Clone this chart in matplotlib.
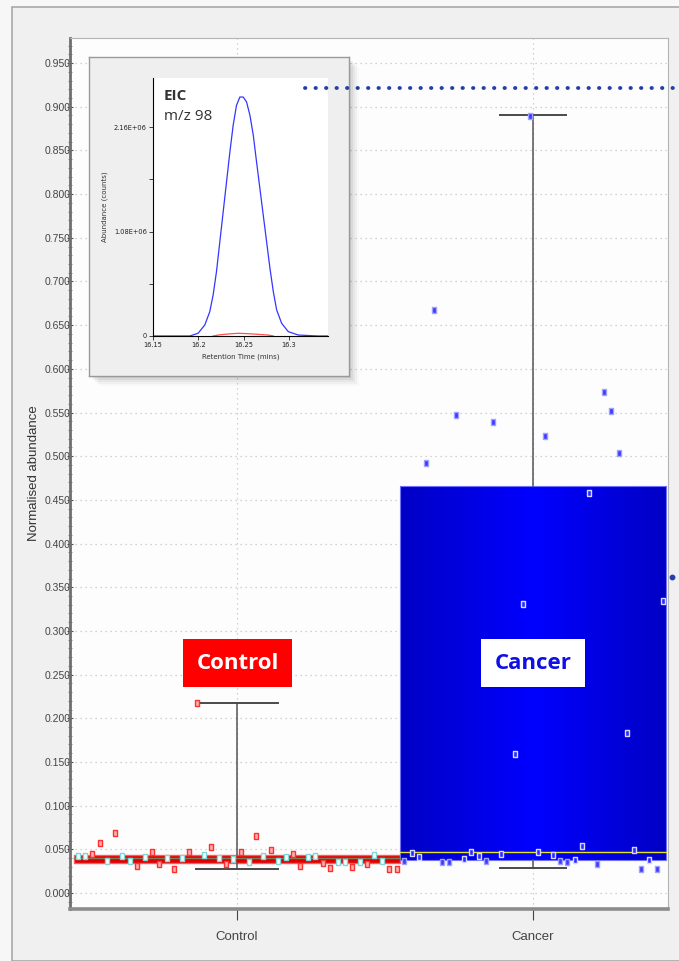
import numpy as np
import matplotlib.pyplot as plt
from matplotlib.colors import LinearSegmentedColormap
from matplotlib.patches import Rectangle
from matplotlib.ticker import MultipleLocator, FixedLocator

# ---------------------------------------------------------------------------
# Data
# ---------------------------------------------------------------------------
groups = ["Control", "Cancer"]

# box summary per group
whisker_low = [0.0275, 0.0286]
q1 = [0.0343, 0.0378]
median = [0.0400, 0.0465]
q3 = [0.0435, 0.4659]
whisker_high = [0.2175, 0.8906]

# individual samples (jitter = horizontal offset from the group centre)
control_jitter = [-0.536, -0.514, -0.488, -0.463, -0.438, -0.412, -0.388, -0.361,
                  -0.337, -0.312, -0.286, -0.263, -0.238, -0.212, -0.187, -0.162,
                  -0.113, -0.088, -0.061, -0.036, -0.013, 0.015, 0.040, 0.063,
                  0.089, 0.114, 0.139, 0.165, 0.190, 0.213, 0.239, 0.264,
                  0.290, 0.314, 0.340, 0.365, 0.390, 0.416, 0.440, 0.464,
                  0.489, 0.515, 0.540, -0.135]
control_values = [0.0424, 0.0424, 0.0443, 0.0576, 0.0366, 0.0683, 0.0424, 0.0370,
                  0.0309, 0.0416, 0.0473, 0.0332, 0.0397, 0.0271, 0.0404, 0.0466,
                  0.0435, 0.0523, 0.0397, 0.0332, 0.0386, 0.0466, 0.0351, 0.0656,
                  0.0424, 0.0492, 0.0370, 0.0416, 0.0443, 0.0309, 0.0416, 0.0427,
                  0.0340, 0.0283, 0.0358, 0.0351, 0.0301, 0.0358, 0.0332, 0.0435,
                  0.0370, 0.0275, 0.0271, 0.2175]

cancer_jitter = [-0.010, -0.335, -0.260, -0.136, -0.361, 0.040, 0.241, 0.265,
                 0.291, 0.189, -0.035, 0.440, -0.061, 0.317, -0.436, -0.410,
                 -0.385, -0.308, -0.285, -0.234, -0.210, -0.183, -0.159, -0.109,
                 0.017, 0.067, 0.091, 0.115, 0.141, 0.167, 0.216, 0.342,
                 0.366, 0.392, 0.418]
cancer_values = [0.8894, 0.6670, 0.5472, 0.5395, 0.4926, 0.5231, 0.5731, 0.5517,
                 0.5033, 0.4582, 0.3305, 0.3342, 0.1588, 0.1828, 0.0366, 0.0454,
                 0.0416, 0.0355, 0.0355, 0.0393, 0.0466, 0.0420, 0.0366, 0.0443,
                 0.0466, 0.0435, 0.0370, 0.0351, 0.0381, 0.0538, 0.0335, 0.0489,
                 0.0275, 0.0378, 0.0275]

reference_level = 0.9215
side_point = (1.470, 0.3617)

# inset: extracted ion chromatogram, m/z 98
eic_time = [16.150, 16.1905, 16.1997, 16.2071, 16.2126, 16.2163, 16.2200, 16.2237,
            16.2274, 16.2311, 16.2348, 16.2384, 16.2421, 16.2458, 16.2495, 16.2532,
            16.2569, 16.2606, 16.2642, 16.2679, 16.2716, 16.2753, 16.2790, 16.2827,
            16.2864, 16.2919, 16.2992, 16.3103, 16.3324, 16.3435]
eic_cancer = [0.0, 0.0, 0.028e6, 0.114e6, 0.251e6, 0.424e6, 0.665e6, 0.975e6,
              1.285e6, 1.595e6, 1.905e6, 2.180e6, 2.387e6, 2.473e6, 2.473e6, 2.422e6,
              2.284e6, 2.077e6, 1.802e6, 1.526e6, 1.250e6, 0.975e6, 0.699e6, 0.458e6,
              0.269e6, 0.131e6, 0.045e6, 0.010e6, 0.0, 0.0]
eic_control_time = [16.2163, 16.2218, 16.2329, 16.2439, 16.2550, 16.2660, 16.2771, 16.2827]
eic_control = [0.0, 0.010e6, 0.021e6, 0.028e6, 0.024e6, 0.017e6, 0.010e6, 0.0]

# ---------------------------------------------------------------------------
# Figure
# ---------------------------------------------------------------------------
W, H = 679, 961
fig = plt.figure(figsize=(W / 100, H / 100), dpi=100, facecolor="#f7f7f7")


def fx(px):
    return px / W


def fy(py):
    return 1 - py / H


# outer panel frame
fig.patches.append(Rectangle((fx(12), 0), 1 - fx(12) + 0.01, fy(7), transform=fig.transFigure,
                             facecolor="#f0f0f0", edgecolor="#a8a8a8", lw=1.2, zorder=-5))

ax = fig.add_axes([fx(70), fy(909), fx(668) - fx(70), fy(38) - fy(909)], zorder=0)
ax.set_facecolor("#fdfdfd")
xlim = (-0.564, 1.456)
ylim = (-0.0183, 0.9787)
ax.set_xlim(*xlim)
ax.set_ylim(*ylim)

# grid
ax.yaxis.set_major_locator(MultipleLocator(0.05))
ax.yaxis.set_minor_locator(MultipleLocator(0.01))
ax.set_xticks(range(len(groups)))
ax.set_xticklabels(groups)
ax.grid(True, which="major", color="#c4c4c4", linestyle=(0, (1, 3)), lw=0.9, zorder=0)
ax.set_axisbelow(True)

ax.yaxis.set_major_formatter(lambda v, p: f"{v:.3f}")
ax.tick_params(axis="y", which="major", direction="inout", length=5, width=0.8,
               color="#555555", labelsize=7.5, labelcolor="#444444", pad=-3)
ax.tick_params(axis="y", which="minor", direction="inout", length=3, width=0.6,
               color="#777777")
ax.tick_params(axis="x", direction="out", length=8, width=0.8, color="#444444",
               labelsize=9.5, labelcolor="#444444", pad=8)
for lab in ax.get_yticklabels():
    lab.set_family(["Liberation Sans Narrow", "Liberation Sans", "DejaVu Sans"])
for lab in ax.get_xticklabels():
    lab.set_family(["Liberation Sans", "DejaVu Sans"])

ax.set_ylabel("Normalised abundance", fontsize=9.5, color="#333333",
              family=["Liberation Sans", "DejaVu Sans"])
ax.yaxis.set_label_coords(-0.050, 0.5)

ax.spines["left"].set_color("#6e6e6e")
ax.spines["left"].set_linewidth(2.0)
ax.spines["bottom"].set_color("#8c8c8c")
ax.spines["bottom"].set_linewidth(2.6)
ax.spines["top"].set_color("#b4b4b4")
ax.spines["right"].set_color("#b4b4b4")

# boxes
box_half = [0.55, 0.45]
cap_half = [0.137, 0.113]

# control box (thin red band)
ax.add_patch(Rectangle((0 - box_half[0], q1[0]), 2 * box_half[0], q3[0] - q1[0],
                       facecolor="#dd0000", edgecolor="#ff5a5a", lw=1.0, zorder=2))

# cancer box with horizontal gradient
grad = np.abs(np.linspace(-1, 1, 256))[None, :]
cmap_blue = LinearSegmentedColormap.from_list("bl", ["#0000ff", "#0000c4"])
ax.imshow(grad, cmap=cmap_blue, aspect="auto", zorder=2, interpolation="bilinear",
          extent=[1 - box_half[1], 1 + box_half[1], q1[1], q3[1]])
ax.add_patch(Rectangle((1 - box_half[1], q1[1]), 2 * box_half[1], q3[1] - q1[1],
                       facecolor="none", edgecolor="#7070ff", lw=0.8, zorder=3))
ax.set_xlim(*xlim)
ax.set_ylim(*ylim)

# whiskers
for i in range(len(groups)):
    ax.plot([i, i], [q3[i], whisker_high[i]], color="#555555", lw=1.1, zorder=3)
    ax.plot([i, i], [whisker_low[i], q1[i]], color="#555555", lw=1.1, zorder=3)
    for w in (whisker_low[i], whisker_high[i]):
        ax.plot([i - cap_half[i], i + cap_half[i]], [w, w], color="#4a4a4a",
                lw=1.4, zorder=3)

# medians
ax.plot([-box_half[0], box_half[0]], [median[0], median[0]], color="#7d7d5a", lw=1.0, zorder=3)
ax.plot([1 - box_half[1], 1 + box_half[1]], [median[1], median[1]], color="#e6e61e", lw=1.0, zorder=3)

# sample points
rect = [(-0.65, -1), (0.65, -1), (0.65, 1), (-0.65, 1), (-0.65, -1)]
cj, cv = np.array(control_jitter), np.array(control_values)
inside = (cv >= q1[0]) & (cv <= q3[0])
ax.plot(0 + cj[~inside], cv[~inside], ls="none", marker=rect, ms=4.5,
        mfc="#ffb0b0", mec="#ff3030", mew=1.0, zorder=4)
ax.plot(0 + cj[inside], cv[inside], ls="none", marker=rect, ms=4.5,
        mfc="#ffffff", mec="#7fd8d8", mew=1.0, zorder=4)

kj, kv = np.array(cancer_jitter), np.array(cancer_values)
inside = (kv >= q1[1]) & (kv <= q3[1])
ax.plot(1 + kj[~inside], kv[~inside], ls="none", marker=rect, ms=4.5,
        mfc="#3a3aff", mec="#a0a0ff", mew=1.0, zorder=4)
ax.plot(1 + kj[inside], kv[inside], ls="none", marker=rect, ms=4.5,
        mfc="#2a2aff", mec="#d8d8ff", mew=1.0, zorder=4)

# group labels
ax.text(0.003, 0.263, "Control", ha="center", va="center", fontsize=16,
        fontweight="bold", color="white", family=["Open Sans", "DejaVu Sans"], zorder=6,
        bbox=dict(boxstyle="square,pad=0.6", facecolor="#ff0000", edgecolor="none"))
ax.text(1.0, 0.263, "Cancer", ha="center", va="center", fontsize=16,
        fontweight="bold", color="#1010e6", family=["Open Sans", "DejaVu Sans"], zorder=6,
        bbox=dict(boxstyle="square,pad=0.6", facecolor="#ffffff", edgecolor="none"))

# ---------------------------------------------------------------------------
# Inset chromatogram
# ---------------------------------------------------------------------------
# soft shadow behind the inset panel
for k, a in enumerate([0.06, 0.05, 0.04, 0.03, 0.02]):
    off = 2 + 2 * k
    fig.patches.append(Rectangle((fx(89 + off), fy(376 + off)), fx(260), fy(0) - fy(319),
                                 transform=fig.transFigure, facecolor="black",
                                 edgecolor="none", alpha=a, zorder=0.5))
panel = fig.add_axes([fx(89), fy(376), fx(260), fy(0) - fy(319)], zorder=1)
panel.set_facecolor("#efefef")
panel.set_xticks([])
panel.set_yticks([])
for s in panel.spines.values():
    s.set_color("#9a9a9a")
    s.set_linewidth(1.0)

ins = fig.add_axes([fx(153), fy(336), fx(328) - fx(153), fy(78) - fy(336)], zorder=2)
ins.set_facecolor("white")
ins.plot(eic_time, eic_cancer, color="#3535ff", lw=0.9)
ins.plot(eic_control_time, eic_control, color="#ff5050", lw=0.9)
ins.set_xlim(16.15, 16.343)
ins.set_ylim(0, 2.67e6)
ins.set_xticks([16.15, 16.2, 16.25, 16.3])
ins.set_xticklabels(["16.15", "16.2", "16.25", "16.3"])
ins.set_yticks([0, 1.08e6, 2.16e6])
ins.set_yticklabels(["0", "1.08E+06", "2.16E+06"])
ins.yaxis.set_minor_locator(FixedLocator([0.54e6, 1.62e6]))
ins.tick_params(which="both", direction="out", length=3, width=0.6, labelsize=4.8,
                colors="#222222", pad=1.5)
ins.spines["top"].set_visible(False)
ins.spines["right"].set_visible(False)
ins.spines["left"].set_linewidth(0.8)
ins.spines["bottom"].set_linewidth(0.8)
ins.set_xlabel("Retention Time (mins)", fontsize=5, color="#333333", labelpad=4)
ins.set_ylabel("Abundance (counts)", fontsize=5, color="#333333", labelpad=4)
ins.text(0.06, 0.93, "EIC", transform=ins.transAxes, fontsize=11, fontweight="bold",
         color="#333333", va="center", ha="left", family=["Open Sans", "DejaVu Sans"])
ins.text(0.06, 0.85, "m/z 98", transform=ins.transAxes, fontsize=11,
         color="#333333", va="center", ha="left", family=["Open Sans", "DejaVu Sans"])

# ---------------------------------------------------------------------------
# Overlay: dotted reference level running over the inset and past the frame
# ---------------------------------------------------------------------------
top = fig.add_axes(ax.get_position().bounds, zorder=10)
top.set_xlim(*xlim)
top.set_ylim(*ylim)
top.axis("off")
top.plot([0.230, 1.52], [reference_level, reference_level], ls=(0, (0.1, 2.6)),
         lw=2.8, color="#2540a8", dash_capstyle="round", clip_on=False)
top.plot([side_point[0]], [side_point[1]], marker="o", ms=3.2, color="#2540a8",
         clip_on=False)

fig.savefig("out.png", dpi=100, facecolor=fig.get_facecolor())
